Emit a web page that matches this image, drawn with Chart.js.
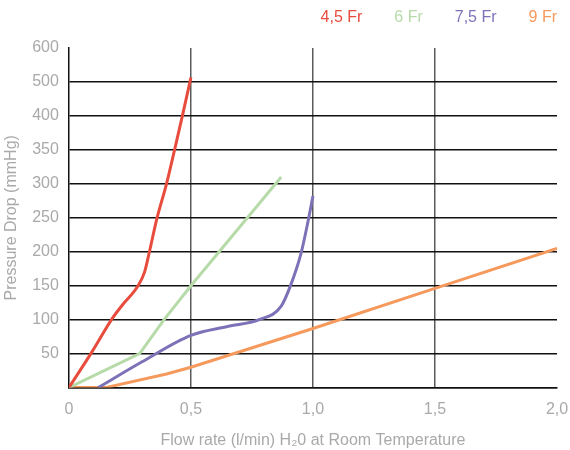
<!DOCTYPE html>
<html>
<head>
<meta charset="utf-8">
<script src="https://cdn.jsdelivr.net/npm/chart.js@4"></script>
<style>
  html, body { margin: 0; padding: 0; background: #fff; }
  #wrap { width: 570px; height: 450px; }
</style>
</head>
<body>
<div id="wrap"><canvas id="myChart"></canvas></div>
<script>
// flow rate (l/min) and pressure drop (mmHg) for each catheter size
var fr45Flow = [0, 0.09, 0.18, 0.22, 0.28, 0.31, 0.33, 0.36, 0.40, 0.433, 0.465, 0.50];
var fr45Pressure = [0, 50, 103, 122, 148, 170, 200, 248, 300, 350, 400, 513];

var fr6Flow = [0, 0.29, 0.39, 0.50, 0.87];
var fr6Pressure = [0, 50, 100, 150, 310];

var fr75Flow = [0.12, 0.30, 0.50, 0.65, 0.78, 0.87, 0.91, 0.95, 0.98, 1.0];
var fr75Pressure = [0, 38, 77, 90, 100, 120, 152, 196, 245, 282];

var fr9Flow = [0, 0.15, 0.40, 0.50, 1.0, 1.5, 2.0];
var fr9Pressure = [0, 0, 20, 30, 87, 146, 205];

var seriesNames = ['4,5 Fr', '6 Fr', '7,5 Fr', '9 Fr'];
var seriesColors = ['#e84c3d', '#b6dba9', '#7d72b8', '#f5995c'];

// the y axis is drawn with equal steps, but the labels jump 400 -> 500 -> 600
var yTickLabels = ['', '50', '100', '150', '200', '250', '300', '350', '400', '500', '600'];

function toStep(v) {
  if (v <= 400) return v / 50;
  return 8 + (v - 400) / 100;
}

function points(xs, ys) {
  return xs.map(function (x, i) { return { x: x, y: toStep(ys[i]) }; });
}

// extra room under the legend
var legendMargin = {
  id: 'legendMargin',
  beforeInit: function (chart) {
    var fit = chart.legend.fit;
    chart.legend.fit = function () {
      fit.bind(chart.legend)();
      this.height += 12;
    };
  }
};

var ctx = document.getElementById('myChart');
var font = "'Liberation Sans', Arial, sans-serif";
var gray = '#a9a9a9';

var myChart = new Chart(ctx, {
  type: 'line',
  data: {
    datasets: [
      { label: seriesNames[0], data: points(fr45Flow, fr45Pressure), borderColor: seriesColors[0], cubicInterpolationMode: 'monotone' },
      { label: seriesNames[1], data: points(fr6Flow, fr6Pressure), borderColor: seriesColors[1], tension: 0 },
      { label: seriesNames[2], data: points(fr75Flow, fr75Pressure), borderColor: seriesColors[2], cubicInterpolationMode: 'monotone' },
      { label: seriesNames[3], data: points(fr9Flow, fr9Pressure), borderColor: seriesColors[3], tension: 0 }
    ]
  },
  plugins: [legendMargin],
  options: {
    responsive: true,
    maintainAspectRatio: false,
    animation: false,
    layout: { padding: { top: 0, right: 3, left: 0, bottom: 0 } },
    elements: {
      point: { radius: 0 },
      line: { borderWidth: 3, fill: false }
    },
    plugins: {
      tooltip: { enabled: false },
      legend: {
        position: 'top',
        align: 'end',
        labels: {
          boxWidth: 14,
          padding: 10,
          font: { family: font, size: 16 },
          generateLabels: function (chart) {
            return chart.data.datasets.map(function (ds, i) {
              return {
                text: ds.label,
                fillStyle: 'rgba(0,0,0,0)',
                strokeStyle: 'rgba(0,0,0,0)',
                lineWidth: 0,
                fontColor: ds.borderColor,
                datasetIndex: i,
                hidden: false
              };
            });
          }
        }
      }
    },
    scales: {
      x: {
        type: 'linear',
        min: 0,
        max: 2,
        afterFit: function (scale) { scale.paddingRight = 13; },
        ticks: {
          stepSize: 0.5,
          padding: 12,
          color: gray,
          font: { family: font, size: 16 },
          callback: function (v) { return v === 0 ? '0' : v.toFixed(1).replace('.', ','); }
        },
        grid: {
          drawTicks: false,
          lineWidth: 1.5,
          color: function (c) {
            var v = c.tick ? c.tick.value : 0;
            return (v === 0 || v === 2) ? 'rgba(0,0,0,0)' : '#5a5a5a';
          }
        },
        border: { color: '#111', width: 1.5 },
        title: {
          display: true,
          text: 'Flow rate (l/min) H\u20820 at Room Temperature',
          color: gray,
          font: { family: font, size: 16 },
          padding: { top: 0, bottom: 0 }
        }
      },
      y: {
        min: 0,
        max: 10,
        ticks: {
          stepSize: 1,
          padding: 10,
          color: gray,
          font: { family: font, size: 16 },
          callback: function (v) { return yTickLabels[v]; }
        },
        grid: {
          drawTicks: false,
          lineWidth: 1.5,
          color: function (c) {
            var v = c.tick ? c.tick.value : 0;
            return v === 10 ? 'rgba(0,0,0,0)' : '#111';
          }
        },
        border: { color: '#111', width: 1.5 },
        title: {
          display: true,
          text: 'Pressure Drop (mmHg)',
          color: gray,
          font: { family: font, size: 16 },
          padding: { top: 2, bottom: 1 }
        }
      }
    }
  }
});

myChart.render();
</script>
</body>
</html>
